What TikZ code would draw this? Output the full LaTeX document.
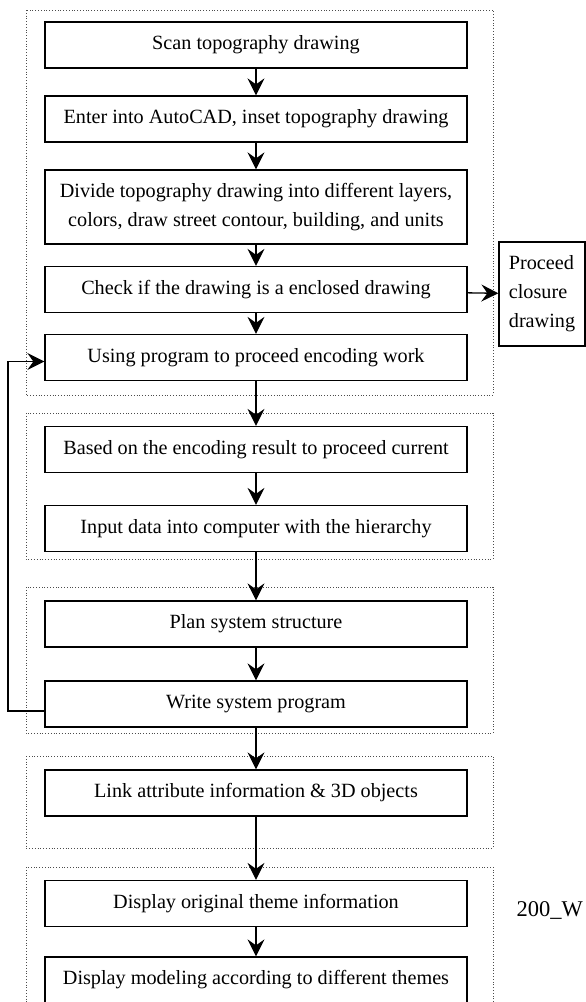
\documentclass[tikz,border=0pt]{standalone}
\usepackage{fontspec}
\setmainfont{Liberation Serif}
\usetikzlibrary{arrows.meta}

\begin{document}
\begin{tikzpicture}[x=1pt,y=-1pt,
  stepbox/.style={draw,line width=1.3pt,minimum width=422pt,minimum height=46pt,inner sep=0pt,align=center,font=\fontsize{20.2}{29.5}\selectfont},
  sidebox/.style={draw,line width=1.3pt,minimum width=86pt,minimum height=104pt,inner sep=6pt,align=left,font=\fontsize{20.2}{29}\selectfont},
  group/.style={draw=black!70,dotted,line width=0.8pt},
  arr/.style={line width=1.3pt,-{Stealth[length=17pt,width=17pt,inset=6pt]}}]
  \clip (0,0) rectangle (586,1002);
  % dotted groups
  \draw[group] (26,10) rectangle (493,395);
  \draw[group] (26,413) rectangle (493,559);
  \draw[group] (26,587) rectangle (493,733);
  \draw[group] (26,756) rectangle (493,848);
  \draw[group] (26,867) rectangle (493,1030);
  % steps
  \node[stepbox] (scan) at (256,45) {Scan topography drawing};
  \node[stepbox] (enter) at (256,119) {Enter into AutoCAD, inset topography drawing};
  \node[stepbox,minimum height=74pt] (divide) at (256,207) {Divide topography drawing into different layers,\\ colors, draw street contour, building, and units};
  \node[stepbox] (check) at (256,289.5) {Check if the drawing is a enclosed drawing};
  \node[stepbox] (encode) at (256,357.5) {Using program to proceed encoding work};
  \node[stepbox] (based) at (256,449.5) {Based on the encoding result to proceed current};
  \node[stepbox] (input) at (256,528.5) {Input data into computer with the hierarchy};
  \node[stepbox] (plan) at (256,624) {Plan system structure};
  \node[stepbox] (write) at (256,704) {Write system program};
  \node[stepbox] (link) at (256,793) {Link attribute information \& 3D objects};
  \node[stepbox] (orig) at (256,903.5) {Display original theme information};
  \node[stepbox] (model) at (256,980) {Display modeling according to different themes};
  \node[sidebox] (closure) at (542,294) {Proceed\\ closure\\ drawing};
  \node[anchor=west,font=\fontsize{22.5}{26}\selectfont] (tag) at (513,910) {200\_W};
  \coordinate (loop) at (8,530);
  % connectors
  \draw[arr] (scan) -- (enter);
  \draw[arr] (enter) -- (divide);
  \draw[arr] (divide) -- (check);
  \draw[arr] (check) -- (encode);
  \draw[arr] (check) -- (closure);
  \draw[arr] (encode) -- (based);
  \draw[arr] (based) -- (input);
  \draw[arr] (input) -- (plan);
  \draw[arr] (plan) -- (write);
  \draw[arr] (write) -- (link);
  \draw[arr] (link) -- (orig);
  \draw[arr] (orig) -- (model);
  \draw[arr] ([yshift=-7pt]write.west) -| (loop) |- ([yshift=-4pt]encode.west);
\end{tikzpicture}
\end{document}
